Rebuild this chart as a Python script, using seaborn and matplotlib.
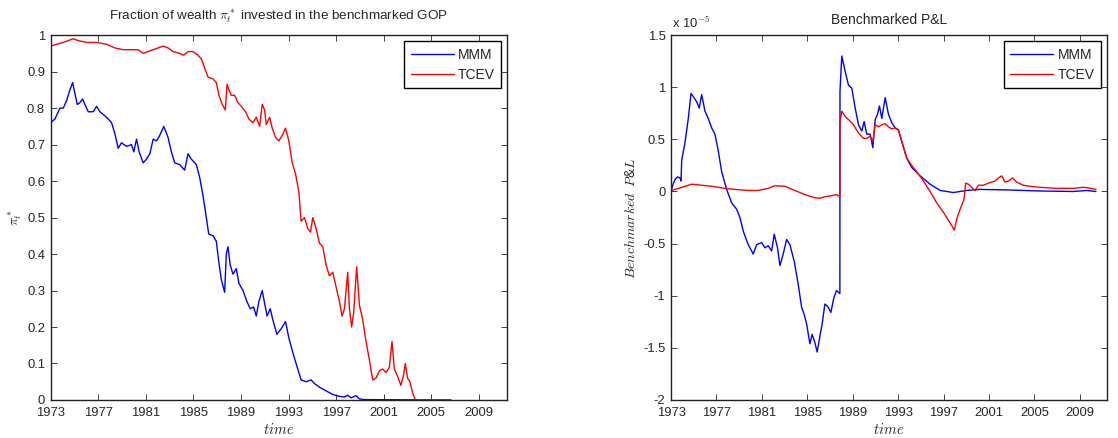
import pandas as pd
import seaborn as sns
from matplotlib import pyplot as plt
from matplotlib.ticker import FuncFormatter

# fraction of wealth invested in the benchmarked GOP
mmm_frac_year = [1973.00, 1973.36, 1973.78, 1974.06, 1974.34, 1974.62, 1974.85, 1975.04, 1975.24, 1975.46,
                 1975.69, 1975.88, 1976.16, 1976.58, 1976.86, 1977.14, 1977.70, 1978.12, 1978.40, 1978.68,
                 1978.96, 1979.38, 1979.80, 1979.99, 1980.22, 1980.44, 1980.78, 1981.06, 1981.34, 1981.62,
                 1981.90, 1982.17, 1982.51, 1982.87, 1983.15, 1983.43, 1983.85, 1984.27, 1984.55, 1984.83,
                 1985.25, 1985.53, 1985.81, 1986.09, 1986.29, 1986.65, 1986.93, 1987.13, 1987.35, 1987.63,
                 1987.77, 1987.91, 1988.10, 1988.33, 1988.61, 1988.83, 1989.17, 1989.50, 1989.78, 1990.06,
                 1990.29, 1990.51, 1990.79, 1990.99, 1991.20, 1991.46, 1991.68, 1992.02, 1992.38, 1992.75,
                 1993.03, 1993.36, 1993.73, 1994.06, 1994.48, 1994.90, 1995.18, 1995.60, 1996.16, 1996.72,
                 1997.28, 1997.70, 1997.98, 1998.26, 1998.68, 1998.96, 1999.38, 2006.65]
mmm_frac = [0.76, 0.77, 0.80, 0.80, 0.82, 0.85, 0.87, 0.84, 0.81, 0.815,
            0.825, 0.81, 0.79, 0.79, 0.805, 0.79, 0.775, 0.76, 0.73, 0.69,
            0.705, 0.695, 0.70, 0.68, 0.715, 0.68, 0.65, 0.66, 0.675, 0.715,
            0.71, 0.725, 0.75, 0.72, 0.68, 0.65, 0.645, 0.63, 0.675, 0.66,
            0.645, 0.61, 0.56, 0.50, 0.455, 0.45, 0.435, 0.38, 0.33, 0.295,
            0.40, 0.42, 0.37, 0.345, 0.36, 0.32, 0.30, 0.27, 0.25, 0.255,
            0.23, 0.27, 0.30, 0.265, 0.23, 0.25, 0.22, 0.18, 0.195, 0.215,
            0.17, 0.13, 0.09, 0.055, 0.05, 0.055, 0.045, 0.035, 0.025, 0.015,
            0.01, 0.008, 0.013, 0.006, 0.012, 0.003, 0.001, 0.0]

tcev_frac_year = [1973.00, 1973.50, 1974.06, 1974.48, 1974.90, 1975.32, 1976.02, 1976.86, 1977.70, 1978.40,
                  1979.10, 1979.80, 1980.36, 1980.78, 1981.20, 1981.62, 1982.04, 1982.45, 1982.87, 1983.29,
                  1983.85, 1984.19, 1984.55, 1984.97, 1985.39, 1985.67, 1985.95, 1986.23, 1986.65, 1986.93,
                  1987.15, 1987.43, 1987.69, 1987.83, 1987.99, 1988.19, 1988.47, 1988.75, 1989.03, 1989.39,
                  1989.67, 1990.01, 1990.29, 1990.57, 1990.79, 1990.99, 1991.13, 1991.41, 1991.63, 1991.91,
                  1992.19, 1992.47, 1992.75, 1993.03, 1993.31, 1993.59, 1993.87, 1994.06, 1994.34, 1994.62,
                  1994.85, 1995.04, 1995.32, 1995.60, 1995.88, 1996.16, 1996.44, 1996.72, 1997.00, 1997.28,
                  1997.50, 1997.70, 1997.98, 1998.12, 1998.31, 1998.48, 1998.73, 1998.96, 1999.24, 1999.52,
                  1999.80, 2000.08, 2000.36, 2000.64, 2000.92, 2001.20, 2001.48, 2001.70, 2001.90, 2002.17,
                  2002.45, 2002.65, 2002.82, 2003.01, 2003.21, 2003.43, 2003.66, 2006.65]
tcev_frac = [0.97, 0.975, 0.98, 0.985, 0.99, 0.985, 0.98, 0.98, 0.975, 0.965,
             0.96, 0.96, 0.96, 0.95, 0.955, 0.96, 0.965, 0.97, 0.965, 0.955,
             0.95, 0.945, 0.955, 0.955, 0.945, 0.935, 0.91, 0.885, 0.88, 0.87,
             0.835, 0.81, 0.795, 0.865, 0.85, 0.835, 0.835, 0.815, 0.805, 0.79,
             0.77, 0.76, 0.775, 0.75, 0.81, 0.795, 0.755, 0.775, 0.745, 0.72,
             0.71, 0.725, 0.745, 0.71, 0.65, 0.62, 0.57, 0.49, 0.50, 0.47,
             0.46, 0.50, 0.47, 0.43, 0.42, 0.37, 0.34, 0.35, 0.31, 0.27,
             0.23, 0.25, 0.35, 0.25, 0.20, 0.24, 0.365, 0.26, 0.22, 0.16,
             0.11, 0.055, 0.06, 0.08, 0.085, 0.075, 0.09, 0.16, 0.085, 0.065,
             0.04, 0.065, 0.10, 0.06, 0.05, 0.02, 0.0, 0.0]

# benchmarked P&L, in units of 1e-5
mmm_pnl_year = [1973.00, 1973.18, 1973.38, 1973.59, 1973.79, 1973.88, 1973.94, 1974.11, 1974.23, 1974.52,
                1974.76, 1974.97, 1975.26, 1975.49, 1975.70, 1975.99, 1976.28, 1976.58, 1976.87, 1977.16,
                1977.46, 1977.90, 1978.34, 1978.78, 1979.07, 1979.36, 1979.80, 1980.24, 1980.54, 1980.98,
                1981.27, 1981.56, 1981.86, 1982.09, 1982.38, 1982.59, 1982.88, 1983.18, 1983.47, 1983.85,
                1984.20, 1984.50, 1984.73, 1984.94, 1985.23, 1985.43, 1985.67, 1985.87, 1986.11, 1986.31,
                1986.55, 1986.78, 1987.08, 1987.34, 1987.57, 1987.87, 1987.88, 1988.04, 1988.34, 1988.63,
                1988.92, 1989.22, 1989.51, 1989.80, 1990.01, 1990.24, 1990.54, 1990.77, 1990.98, 1991.18,
                1991.36, 1991.56, 1991.86, 1992.15, 1992.44, 1992.74, 1993.03, 1993.32, 1993.76, 1994.20,
                1994.94, 1995.82, 1996.70, 1997.87, 1999.04, 2000.21, 2002.56, 2005.49, 2008.43, 2009.60,
                2010.42]
mmm_pnl = [0.00, 0.07, 0.12, 0.14, 0.13, 0.10, 0.30, 0.40, 0.47, 0.70,
           0.94, 0.91, 0.86, 0.80, 0.93, 0.77, 0.70, 0.61, 0.55, 0.39,
           0.19, 0.02, -0.11, -0.17, -0.25, -0.38, -0.51, -0.60, -0.51, -0.49,
           -0.54, -0.52, -0.57, -0.41, -0.54, -0.71, -0.60, -0.46, -0.51, -0.67,
           -0.89, -1.11, -1.18, -1.27, -1.46, -1.37, -1.45, -1.54, -1.39, -1.27,
           -1.08, -1.10, -1.16, -1.02, -0.95, -0.98, 0.96, 1.30, 1.15, 1.02,
           0.99, 0.80, 0.64, 0.58, 0.67, 0.55, 0.55, 0.42, 0.69, 0.74,
           0.82, 0.70, 0.90, 0.74, 0.66, 0.61, 0.59, 0.48, 0.32, 0.23,
           0.15, 0.07, 0.01, -0.01, 0.01, 0.02, 0.015, 0.005, 0.0, 0.01,
           0.0]

tcev_pnl_year = [1973.00, 1973.06, 1973.65, 1974.23, 1974.82, 1975.70, 1976.58, 1977.75, 1978.63, 1979.80,
                 1980.68, 1981.56, 1982.15, 1983.03, 1983.91, 1984.79, 1985.67, 1986.11, 1986.55, 1987.13,
                 1987.57, 1987.87, 1987.88, 1988.04, 1988.34, 1988.63, 1989.07, 1989.51, 1989.95, 1990.24,
                 1990.54, 1990.77, 1990.98, 1991.27, 1991.56, 1991.86, 1992.15, 1992.44, 1992.74, 1993.03,
                 1993.32, 1993.76, 1994.20, 1994.64, 1995.23, 1995.82, 1996.40, 1996.99, 1997.57, 1997.95,
                 1998.20, 1998.50, 1998.79, 1998.95, 1999.19, 1999.48, 1999.77, 2000.07, 2000.51, 2000.95,
                 2001.53, 2001.83, 2002.12, 2002.41, 2002.71, 2003.09, 2003.44, 2004.03, 2004.61, 2005.49,
                 2006.96, 2008.43, 2009.31, 2009.74, 2010.42]
tcev_pnl = [0.00, 0.01, 0.03, 0.05, 0.07, 0.06, 0.05, 0.03, 0.02, 0.01,
            0.01, 0.03, 0.055, 0.05, 0.01, -0.03, -0.06, -0.065, -0.05, -0.04,
            -0.03, -0.05, 0.67, 0.77, 0.72, 0.69, 0.64, 0.56, 0.51, 0.51,
            0.53, 0.48, 0.64, 0.62, 0.64, 0.65, 0.62, 0.60, 0.61, 0.59,
            0.48, 0.32, 0.25, 0.19, 0.10, 0.0, -0.11, -0.20, -0.30, -0.37,
            -0.25, -0.16, -0.08, 0.08, 0.07, 0.04, 0.01, 0.06, 0.06, 0.08,
            0.10, 0.13, 0.15, 0.09, 0.10, 0.13, 0.09, 0.06, 0.05, 0.04,
            0.03, 0.03, 0.04, 0.035, 0.02]

year_ticks = list(range(1973, 2010, 4))

sns.set_style('ticks')
plt.rcParams['font.family'] = ['Liberation Sans', 'DejaVu Sans']
plt.rcParams['mathtext.fontset'] = 'cm'
plt.rcParams['xtick.direction'] = 'in'
plt.rcParams['ytick.direction'] = 'in'
plt.rcParams['xtick.top'] = True
plt.rcParams['ytick.right'] = True


def fmt(v, pos):
    return ('%g' % round(v, 6)).replace('\u2212', '-')


def style_axes(ax):
    ax.set_xlim(1973, 2011.4)
    ax.set_xticks(year_ticks)
    ax.yaxis.set_major_formatter(FuncFormatter(fmt))
    ax.tick_params(labelsize=9.4, length=4, width=0.6, color='#222222')
    ax.tick_params(axis='x', pad=5)
    ax.tick_params(axis='y', pad=4)
    for sp in ax.spines.values():
        sp.set_linewidth(1.0)
        sp.set_color('#222222')
    ax.set_xlabel(r'$time$', fontsize=10.5, labelpad=2)
    ax.legend(loc='upper right', fontsize=10, handlelength=3.1, labelspacing=0.45,
              borderaxespad=0.45, fancybox=False, edgecolor='black', framealpha=1,
              handletextpad=0.3, borderpad=0.45)
    ax.get_legend().get_frame().set_linewidth(1.0)


fig = plt.figure(figsize=(11.18, 4.38), dpi=100)
ax1 = fig.add_axes([0.0453, 0.0868, 0.4085, 0.833])
ax2 = fig.add_axes([0.6002, 0.0868, 0.3900, 0.833])

sns.lineplot(x=mmm_frac_year, y=mmm_frac, color='#0000ff', linewidth=1.0, label='MMM',
             estimator=None, sort=False, ax=ax1)
sns.lineplot(x=tcev_frac_year, y=tcev_frac, color='#ff0000', linewidth=1.0, label='TCEV',
             estimator=None, sort=False, ax=ax1)
ax1.set_ylim(0, 1)
ax1.set_yticks([i / 10 for i in range(11)])
ax1.set_title(r'Fraction of wealth $\pi_t^*$ invested in the benchmarked GOP', fontsize=9.7, pad=11)
ax1.set_ylabel(r'$\pi_t^*$', fontsize=10, labelpad=2)
style_axes(ax1)

sns.lineplot(x=mmm_pnl_year, y=mmm_pnl, color='#0000ff', linewidth=1.0, label='MMM',
             estimator=None, sort=False, ax=ax2)
sns.lineplot(x=tcev_pnl_year, y=tcev_pnl, color='#ff0000', linewidth=1.0, label='TCEV',
             estimator=None, sort=False, ax=ax2)
ax2.set_ylim(-2, 1.5)
ax2.set_yticks([-2, -1.5, -1, -0.5, 0, 0.5, 1, 1.5])
ax2.set_title('Benchmarked P&L', fontsize=10, pad=8)
ax2.set_ylabel(r'$Benchmarked\;\;P$&$L$', fontsize=10, labelpad=4)
ax2.text(0.002, 1.012, r'x 10$^{-5}$', transform=ax2.transAxes, fontsize=9.4,
         ha='left', va='bottom')
style_axes(ax2)

fig.savefig('out.png', dpi=100)
